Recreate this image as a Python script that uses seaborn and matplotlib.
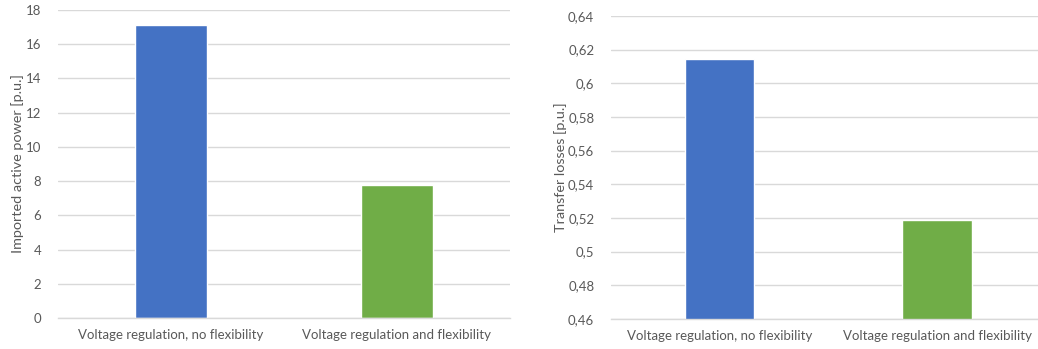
import matplotlib
matplotlib.use("Agg")
import matplotlib.pyplot as plt
import matplotlib.ticker as mticker
import seaborn as sns
import pandas as pd

categories = ["Voltage regulation, no flexibility", "Voltage regulation and flexibility"]
imported_power = [17.1, 7.78]
transfer_losses = [0.6145, 0.5188]
colors = ["#4472C4", "#70AD47"]

sns.set_theme(style="white")
plt.rcParams['font.family'] = ['Lato', 'DejaVu Sans']
text_color = "#595959"
grid_color = "#D9D9D9"

fig = plt.figure(figsize=(10.38, 3.49), dpi=100)
ax1 = fig.add_axes([0.0559, 0.0888, 0.4350, 0.8825])
ax2 = fig.add_axes([0.5886, 0.0860, 0.4190, 0.8682])

def comma(x, pos):
    s = ("%.2f" % x).rstrip("0").rstrip(".")
    return s.replace(".", ",")

def style(ax, ylabel, ylim, step, fmt=None):
    ax.set_ylim(*ylim)
    ax.set_xlim(-0.5, 1.5)
    ax.yaxis.set_major_locator(mticker.MultipleLocator(step))
    if fmt:
        ax.yaxis.set_major_formatter(mticker.FuncFormatter(fmt))
    ax.grid(axis="y", color=grid_color, linewidth=1)
    ax.set_axisbelow(True)
    for s in ["top", "right", "left"]:
        ax.spines[s].set_visible(False)
    ax.spines["bottom"].set_color(grid_color)
    ax.spines["bottom"].set_linewidth(1)
    ax.set_ylabel(ylabel, color=text_color, fontsize=10.4, labelpad=1)
    ax.set_xlabel("")
    ax.tick_params(axis="y", length=0, colors=text_color, labelsize=9.5, pad=12)
    ax.tick_params(axis="x", which="major", length=0, colors=text_color, labelsize=9.5, pad=8)
    ax.xaxis.set_minor_locator(mticker.FixedLocator([-0.5, 0.5, 1.5]))
    ax.tick_params(axis="x", which="minor", length=5, color=grid_color, direction="out")

df1 = pd.DataFrame({"cat": categories, "val": imported_power})
sns.barplot(data=df1, x="cat", y="val", hue="cat", palette=colors, width=0.32,
            legend=False, ax=ax1, saturation=1)
style(ax1, "Imported active power [p.u.]", (0, 18), 2)

df2 = pd.DataFrame({"cat": categories, "val": transfer_losses})
sns.barplot(data=df2, x="cat", y="val", hue="cat", palette=colors, width=0.32,
            legend=False, ax=ax2, saturation=1)
style(ax2, "Transfer losses [p.u.]", (0.46, 0.64), 0.02, comma)

fig.savefig("out.png", dpi=100)
